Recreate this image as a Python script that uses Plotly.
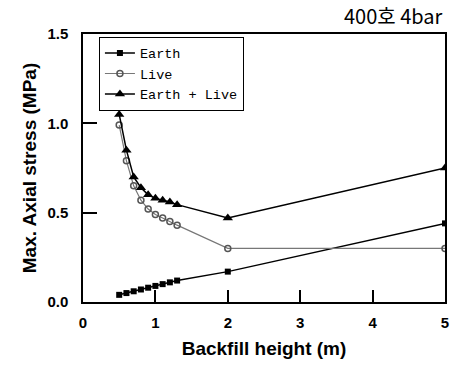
import plotly.graph_objects as go

heights = [0.5, 0.6, 0.7, 0.8, 0.9, 1.0, 1.1, 1.2, 1.3, 2.0, 5.0]
earth = [0.04, 0.05, 0.06, 0.07, 0.08, 0.09, 0.10, 0.11, 0.12, 0.17, 0.44]
live = [0.99, 0.79, 0.65, 0.57, 0.52, 0.49, 0.47, 0.45, 0.43, 0.30, 0.30]
earth_live = [1.05, 0.85, 0.70, 0.64, 0.60, 0.58, 0.57, 0.56, 0.545, 0.47, 0.75]

x_ticks = [0, 1, 2, 3, 4, 5]
y_ticks = [0.0, 0.5, 1.0, 1.5]

fig = go.Figure()
fig.add_trace(go.Scatter(x=heights, y=earth, name="Earth", mode="lines+markers",
                         line=dict(color="black", width=1.5),
                         marker=dict(symbol="square", size=6, color="black")))
fig.add_trace(go.Scatter(x=heights, y=live, name="Live", mode="lines+markers",
                         line=dict(color="#777777", width=1.2),
                         marker=dict(symbol="circle-open", size=6, color="#555555",
                                     line=dict(width=1.5))))
fig.add_trace(go.Scatter(x=heights, y=earth_live, name="Earth + Live", mode="lines+markers",
                         line=dict(color="black", width=1.5),
                         marker=dict(symbol="triangle-up", size=9, color="black")))

axis_font = dict(family="Liberation Sans", size=19, color="black")
tick_font = dict(family="Liberation Sans", size=15, color="black")

fig.update_layout(
    width=459, height=372,
    margin=dict(l=83, r=10, t=34, b=70),
    plot_bgcolor="white", paper_bgcolor="white",
    showlegend=True,
    legend=dict(x=0.044, y=0.99, xanchor="left", yanchor="top",
                bordercolor="black", borderwidth=1, bgcolor="white",
                font=dict(family="Liberation Mono", size=13.5, color="black"),
                tracegroupgap=0, itemwidth=30),
    annotations=[dict(text="400호 4bar", x=1.0, y=1.0, xref="paper", yref="paper",
                      xanchor="right", yanchor="middle", yshift=19, showarrow=False,
                      font=dict(family="Noto Sans CJK KR", size=20, color="black"))],
)
fig.update_xaxes(range=[0, 5], tickvals=x_ticks, ticktext=["<b>%d</b>" % v for v in x_ticks],
                 ticks="inside", ticklen=12, tickwidth=1.5, tickcolor="black",
                 showline=True, linecolor="black", linewidth=1.5, mirror=True,
                 showgrid=False, zeroline=False, tickfont=tick_font, ticklabelstandoff=6,
                 title=dict(text="<b>Backfill height (m)</b>", font=axis_font, standoff=12))
fig.update_yaxes(range=[0, 1.5], tickvals=y_ticks, ticktext=["<b>%.1f</b>" % v for v in y_ticks],
                 ticks="inside", ticklen=14, tickwidth=1.5, tickcolor="black",
                 showline=True, linecolor="black", linewidth=1.5, mirror=True,
                 showgrid=False, zeroline=False, tickfont=tick_font, ticklabelstandoff=10,
                 title=dict(text="<b>Max. Axial stress (MPa)</b>", font=axis_font, standoff=6))

fig.write_html("out.html")
